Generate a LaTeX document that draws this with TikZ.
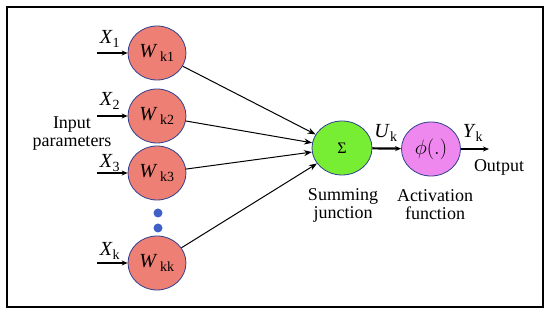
\documentclass[tikz,border=0pt]{standalone}
\usepackage{fontspec}
\setmainfont{Liberation Serif}
\usepackage{xcolor}
\usetikzlibrary{arrows.meta, positioning, shapes.geometric}

\definecolor{wfill}{HTML}{EE7F74}
\definecolor{sfill}{HTML}{77EE33}
\definecolor{pfill}{HTML}{EE88EE}
\definecolor{edge}{HTML}{2E3F8F}
\definecolor{dotc}{HTML}{4060C8}

\begin{document}
\begin{tikzpicture}[
  x=1pt, y=1pt,
  unit/.style={draw=edge, thick, ellipse, minimum width=58pt, minimum height=54pt, inner sep=0pt},
  wgt/.style={unit, fill=wfill, font=\fontsize{20}{22}\selectfont},
  lbl/.style={font=\fontsize{18}{18}\selectfont, align=center, inner sep=1pt},
  var/.style={font=\fontsize{20}{22}\selectfont, inner sep=1pt},
  feed/.style={line width=2.2pt, -{Stealth[length=6pt,width=5pt]}},
  link/.style={line width=1pt, -{Stealth[length=8pt,width=6pt]}},
]
\useasboundingbox (0,0) rectangle (550,315);
\draw[line width=2pt] (7,8) rectangle (543,308);

% weights
\node[wgt] (wk1) at (157,262) {\textit{W}\textsubscript{\,k1}};
\node[wgt] (wk2) at (157,199) {\textit{W}\textsubscript{\,k2}};
\node[wgt] (wk3) at (157,142) {\textit{W}\textsubscript{\,k3}};
\node[wgt] (wkk) at (157,52) {\textit{W}\textsubscript{\,kk}};
\node[circle, fill=dotc, minimum size=9pt, inner sep=0pt] (dot1) at (158,102) {};
\node[circle, fill=dotc, minimum size=9pt, inner sep=0pt] (dot2) at (158,87) {};

% inputs
\coordinate (in1) at (97,262);
\coordinate (in2) at (97,199);
\coordinate (in3) at (97,142);
\coordinate (ink) at (97,52);
\node[var] (x1) at (110,276) {\textit{X}\textsubscript{1}};
\node[var] (x2) at (110,214) {\textit{X}\textsubscript{2}};
\node[var] (x3) at (110,152) {\textit{X}\textsubscript{3}};
\node[var] (xk) at (110,64) {\textit{X}\textsubscript{k}};
\node[lbl] (inp) at (72,181) {Input\\parameters};

% summing and activation
\node[unit, fill=sfill, minimum width=60pt, font=\fontsize{16}{18}\selectfont] (sum) at (342,167) {Σ};
\node[unit, fill=pfill, minimum width=59pt, font=\fontsize{20}{22}\selectfont] (phi) at (431,166) {$\phi(.)$};
\coordinate (out) at (489,166);
\node[var] (uk) at (386,182) {\textit{U}\textsubscript{k}};
\node[var] (yk) at (473,182) {\textit{Y}\textsubscript{k}};
\node[lbl] (outl) at (499,148) {Output};
\node[lbl] (suml) at (343,110) {Summing\\junction};
\node[lbl] (actl) at (435,110) {Activation\\function};

\draw[feed] (in1) -- (wk1);
\draw[feed] (in2) -- (wk2);
\draw[feed] (in3) -- (wk3);
\draw[feed] (ink) -- (wkk);
\draw[link] (wk1) -- (sum);
\draw[link] (wk2) -- (sum);
\draw[link] (wk3) -- (sum);
\draw[link] (wkk) -- (sum);
\draw[feed] (sum) -- (phi);
\draw[feed] (phi) -- (out);
\end{tikzpicture}
\end{document}
